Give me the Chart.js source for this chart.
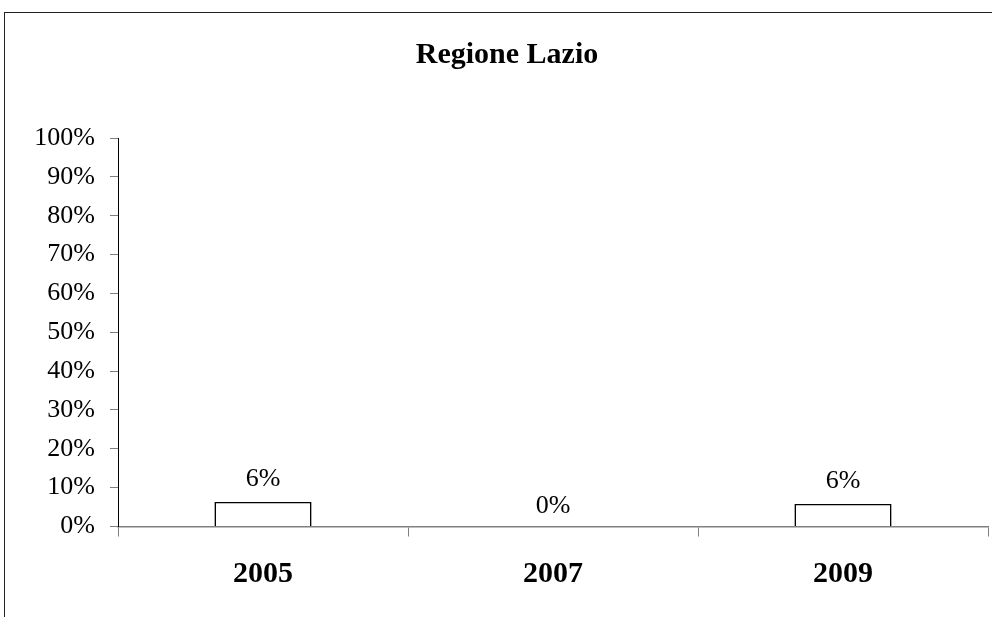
<!DOCTYPE html>
<html>
<head>
<meta charset="utf-8">
<script src="https://cdn.jsdelivr.net/npm/chart.js@4/dist/chart.umd.min.js"></script>
<style>
  html, body { margin: 0; padding: 0; background: #fff; overflow: hidden; }
  #wrap { position: relative; width: 992px; height: 617px; }
  #frame { position: absolute; left: 4px; top: 12px; width: 1000px; height: 700px;
           border-top: 1px solid #222; border-left: 1px solid #222; pointer-events: none; }
</style>
</head>
<body>
<div id="wrap">
  <canvas id="c" width="992" height="617"></canvas>
  <div id="frame"></div>
</div>
<script>
const TITLE = 'Regione Lazio';
const categories = ['2005', '2007', '2009'];
const values = [6.3, 0, 5.8];
const valueLabels = ['6%', '0%', '6%'];
const yTicks = [0, 10, 20, 30, 40, 50, 60, 70, 80, 90, 100];

const FONT = "'Liberation Serif', 'Times New Roman', serif";

const titlePlugin = {
  id: 'customTitle',
  afterDraw(chart) {
    const ctx = chart.ctx;
    ctx.save();
    ctx.font = "bold 30px " + FONT;
    ctx.fillStyle = '#000';
    ctx.textAlign = 'center';
    ctx.textBaseline = 'middle';
    ctx.fillText(TITLE, 507, 55);
    ctx.restore();
  }
};

const labelPlugin = {
  id: 'valueLabels',
  afterDatasetsDraw(chart) {
    const ctx = chart.ctx;
    const meta = chart.getDatasetMeta(0);
    ctx.save();
    ctx.font = "26px " + FONT;
    ctx.fillStyle = '#000';
    ctx.textAlign = 'center';
    ctx.textBaseline = 'middle';
    meta.data.forEach((bar, i) => {
      const off = values[i] === 0 ? 20 : 23;
      ctx.fillText(valueLabels[i], bar.x, bar.y - off);
    });
    ctx.restore();
  }
};

new Chart(document.getElementById('c'), {
  type: 'bar',
  data: {
    labels: categories,
    datasets: [{
      data: values,
      backgroundColor: '#ffffff',
      borderColor: '#000000',
      borderWidth: 1.6,
      borderSkipped: 'bottom',
      categoryPercentage: 1,
      barPercentage: 0.335
    }]
  },
  options: {
    responsive: false,
    animation: false,
    layout: { padding: { top: 138, left: 0, right: 4, bottom: 0 } },
    plugins: {
      legend: { display: false },
      title: { display: false },
      tooltip: { enabled: false }
    },
    scales: {
      x: {
        offset: true,
        grid: { drawOnChartArea: false, drawTicks: true, tickLength: 10, color: '#808080', offset: true },
        border: { display: true, color: '#808080', width: 1.5 },
        ticks: { color: '#000', padding: 20, font: { family: FONT, size: 30, weight: 'bold' } },
        afterFit(scale) { scale.height = 90.5; }
      },
      y: {
        min: 0,
        max: 100,
        afterBuildTicks(scale) { scale.ticks = yTicks.map(v => ({ value: v })); },
        grid: { drawOnChartArea: false, drawTicks: true, tickLength: 8, color: '#808080' },
        border: { display: true, color: '#000', width: 1 },
        ticks: {
          color: '#000',
          padding: 15,
          font: { family: FONT, size: 26 },
          callback: v => v + '%'
        },
        afterFit(scale) { scale.width = 118; }
      }
    }
  },
  plugins: [titlePlugin, labelPlugin]
});
</script>
</body>
</html>
